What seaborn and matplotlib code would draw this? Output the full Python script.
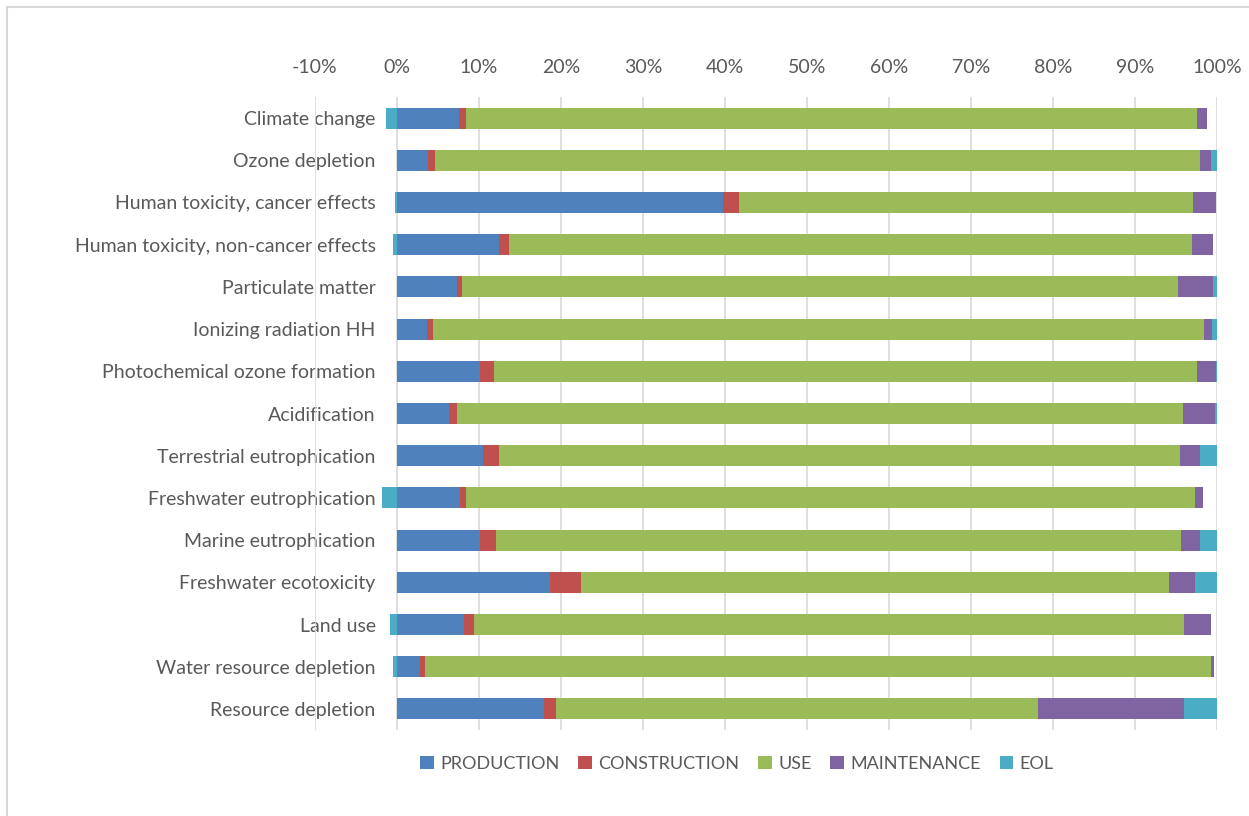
import numpy as np
import pandas as pd
import matplotlib
matplotlib.use("Agg")
import matplotlib.pyplot as plt
from matplotlib.patches import Patch, Rectangle
import seaborn as sns

categories = [
    "Climate change", "Ozone depletion", "Human toxicity, cancer effects",
    "Human toxicity, non-cancer effects", "Particulate matter",
    "Ionizing radiation HH", "Photochemical ozone formation", "Acidification",
    "Terrestrial eutrophication", "Freshwater eutrophication",
    "Marine eutrophication", "Freshwater ecotoxicity", "Land use",
    "Water resource depletion", "Resource depletion",
]

# Contribution of each life-cycle stage (% of total impact)
production   = [7.6, 3.8, 39.8, 12.5, 7.4, 3.65, 10.15, 6.4, 10.55, 7.7, 10.15, 18.7, 8.2, 2.9, 18.0]
construction = [0.9, 0.85, 1.9, 1.2, 0.6, 0.8, 1.7, 1.0, 1.9, 0.75, 2.0, 3.8, 1.2, 0.55, 1.4]
use          = [89.0, 93.3, 55.3, 83.2, 87.25, 93.9, 85.65, 88.4, 83.0, 88.8, 83.4, 71.6, 86.6, 95.8, 58.7]
maintenance  = [1.25, 1.3, 2.8, 2.6, 4.25, 0.95, 2.4, 3.9, 2.45, 0.95, 2.3, 3.2, 3.2, 0.3, 17.9]
eol          = [-1.3, 0.73, -0.2, -0.5, 0.5, 0.65, 0.1, 0.3, 2.1, -1.8, 2.15, 2.7, -0.8, -0.5, 4.0]

stages = ["PRODUCTION", "CONSTRUCTION", "USE", "MAINTENANCE", "EOL"]
colors = {"PRODUCTION": "#4F81BD", "CONSTRUCTION": "#C0504D", "USE": "#9BBB59",
          "MAINTENANCE": "#8064A2", "EOL": "#4BACC6"}
text_color = "#595959"

df = pd.DataFrame({"category": categories, "PRODUCTION": production,
                   "CONSTRUCTION": construction, "USE": use,
                   "MAINTENANCE": maintenance, "EOL": eol})

# Cumulative extents of the stacked positive segments
eol_pos = df["EOL"].clip(lower=0)
eol_neg = df["EOL"].clip(upper=0)
cum = {}
running = np.zeros(len(df))
for s in stages:
    vals = eol_pos.values if s == "EOL" else df[s].values
    running = running + vals
    cum[s] = running.copy()

sns.set_theme(style="white")
plt.rcParams["font.family"] = ["Lato", "DejaVu Sans"]

fig = plt.figure(figsize=(12.49, 8.16), dpi=100)
ax = fig.add_axes([314.6 / 1249, 1 - 730 / 816, (1217.3 - 314.6) / 1249, (730 - 97) / 816])

# Draw the stack back to front so each stage covers the part before it
for s in reversed(stages):
    sns.barplot(x=cum[s], y=df["category"], orient="h", color=colors[s],
                width=0.5, ax=ax, saturation=1, linewidth=0, zorder=3)
sns.barplot(x=eol_neg.values, y=df["category"], orient="h", color=colors["EOL"],
            width=0.5, ax=ax, saturation=1, linewidth=0, zorder=3)

ax.set_xlim(-10, 100)
ax.set_ylim(len(categories) - 0.5, -0.5)
ticks = np.arange(-10, 101, 10)
ax.set_xticks(ticks)
ax.set_xticklabels([f"{t}%" for t in ticks])
ax.xaxis.set_ticks_position("top")
ax.xaxis.set_label_position("top")
ax.set_xlabel("")
ax.set_ylabel("")
for t in ticks:
    ax.axvline(t, color="#D9D9D9", lw=1.2, zorder=1)
for sp in ax.spines.values():
    sp.set_visible(False)
ax.tick_params(axis="x", length=0, pad=15, labelsize=14, labelcolor=text_color)
ax.tick_params(axis="y", length=0, pad=-44, labelsize=14, labelcolor=text_color)
for lbl in ax.get_yticklabels():
    lbl.set_horizontalalignment("right")
    lbl.set_zorder(2)

handles = [Patch(facecolor=colors[s], edgecolor="none", label=s) for s in stages]
fig.legend(handles=handles, loc="center", bbox_to_anchor=(737 / 1249, 1 - 764 / 816),
           ncol=5, frameon=False, fontsize=13, labelcolor=text_color,
           handlelength=0.75, handleheight=0.75, handletextpad=0.35, columnspacing=1.05)

# Chart-area border
fig.patches.append(Rectangle((7 / 1249, -0.1), 1.2, 1 - 7 / 816 + 0.1,
                             transform=fig.transFigure, fill=False,
                             edgecolor="#D9D9D9", lw=1.5))

fig.savefig("out.png", dpi=100, facecolor="white")
